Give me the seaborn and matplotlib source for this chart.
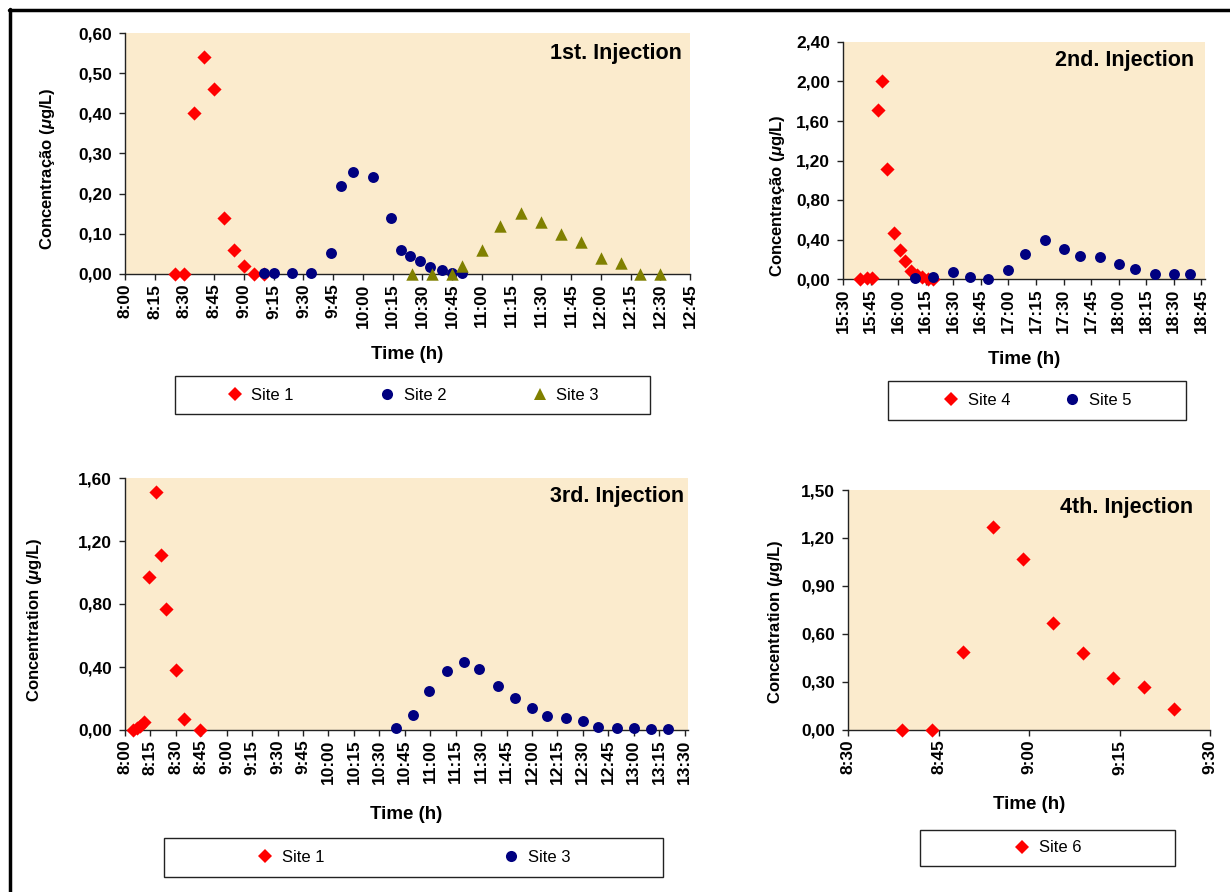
import matplotlib
matplotlib.use("Agg")
import matplotlib.pyplot as plt
from matplotlib.lines import Line2D
from matplotlib.patches import Rectangle
from matplotlib.ticker import FuncFormatter, MultipleLocator
import seaborn as sns
import pandas as pd

# ---------------- data ----------------
# 1st injection
p1_site1_t = ["8:25", "8:30", "8:35", "8:40", "8:45", "8:50", "8:55", "9:00", "9:05", "9:10"]
p1_site1_v = [0.00, 0.00, 0.40, 0.54, 0.46, 0.14, 0.06, 0.02, 0.00, 0.00]
p1_site2_t = ["9:10", "9:15", "9:24", "9:34", "9:44", "9:49", "9:55", "10:05", "10:14", "10:19",
              "10:24", "10:29", "10:34", "10:40", "10:45", "10:50"]
p1_site2_v = [0.002, 0.002, 0.002, 0.002, 0.052, 0.22, 0.254, 0.242, 0.14, 0.06,
              0.044, 0.032, 0.018, 0.011, 0.002, 0.002]
p1_site3_t = ["10:25", "10:35", "10:45", "10:50", "11:00", "11:09", "11:20", "11:30", "11:40",
              "11:50", "12:00", "12:10", "12:20", "12:30"]
p1_site3_v = [0.00, 0.00, 0.00, 0.021, 0.059, 0.12, 0.151, 0.13, 0.10, 0.079, 0.041, 0.028, 0.00, 0.00]

# 2nd injection
p2_site4_t = ["15:39", "15:43", "15:46", "15:49", "15:51", "15:54", "15:58", "16:01", "16:04",
              "16:07", "16:10", "16:13", "16:16", "16:19"]
p2_site4_v = [0.00, 0.01, 0.01, 1.71, 2.01, 1.11, 0.47, 0.29, 0.18, 0.08, 0.04, 0.02, 0.00, 0.00]
p2_site5_t = ["16:09", "16:19", "16:30", "16:39", "16:49", "17:00", "17:09", "17:20", "17:30",
              "17:39", "17:50", "18:00", "18:09", "18:20", "18:30", "18:39"]
p2_site5_v = [0.007, 0.024, 0.07, 0.02, 0.003, 0.088, 0.256, 0.39, 0.307, 0.236, 0.223,
              0.155, 0.10, 0.054, 0.054, 0.054]

# 3rd injection
p3_site1_t = ["8:05", "8:07", "8:09", "8:11", "8:14", "8:18", "8:21", "8:24", "8:30", "8:35", "8:44"]
p3_site1_v = [0.00, 0.013, 0.028, 0.051, 0.97, 1.51, 1.11, 0.77, 0.38, 0.07, 0.00]
p3_site3_t = ["10:40", "10:50", "10:59", "11:10", "11:20", "11:29", "11:40", "11:50", "12:00",
              "12:09", "12:20", "12:30", "12:39", "12:50", "13:00", "13:10", "13:20"]
p3_site3_v = [0.013, 0.098, 0.249, 0.374, 0.43, 0.385, 0.279, 0.202, 0.14, 0.087, 0.077,
              0.055, 0.021, 0.013, 0.013, 0.004, 0.004]

# 4th injection
p4_site6_t = ["8:39", "8:44", "8:49", "8:54", "8:59", "9:04", "9:09", "9:14", "9:19", "9:24"]
p4_site6_v = [0.00, 0.00, 0.49, 1.27, 1.07, 0.67, 0.48, 0.325, 0.27, 0.133]

titles = ["1st. Injection", "2nd. Injection", "3rd. Injection", "4th. Injection"]
ylabels = ["Concentração ($\\mu$g/L)", "Concentração ($\\mu$g/L)",
           "Concentration ($\\mu$g/L)", "Concentration ($\\mu$g/L)"]
xlabel = "Time (h)"


def to_min(s):
    h, m = s.split(":")
    return int(h) * 60 + int(m)


# ---------------- style ----------------
sns.set_style("ticks")
plt.rcParams["font.family"] = ["Liberation Sans", "DejaVu Sans"]
plt.rcParams["mathtext.fontset"] = "custom"
plt.rcParams["mathtext.it"] = "Liberation Sans:italic:bold"
plt.rcParams["mathtext.rm"] = "Liberation Sans:bold"
plt.rcParams["text.color"] = "black"
plt.rcParams["axes.labelcolor"] = "black"
plt.rcParams["xtick.color"] = "black"
plt.rcParams["ytick.color"] = "black"

BG = "#FBEBCD"
RED = "#FF0000"
NAVY = "#000080"
OLIVE = "#808000"

W, H = 1230, 892
fig = plt.figure(figsize=(12.3, 8.92), dpi=100)
fig.patch.set_facecolor("white")


def add_ax(left, top, right, bottom):
    return fig.add_axes([left / W, 1 - bottom / H, (right - left) / W, (bottom - top) / H])


MK = {"D": dict(marker="D", s=52), "o": dict(marker="o", s=62), "^": dict(marker="^", s=80)}


def draw(ax, t, v, mk, color):
    df = pd.DataFrame({"t": [to_min(x) for x in t], "v": v})
    sns.scatterplot(data=df, x="t", y="v", ax=ax, color=color, linewidth=0,
                    clip_on=False, zorder=3, legend=False, **MK[mk])


def style(ax, xlim, xstep, ylim, ystep, title, title_xy, ylab, ylab_xy, xlab_y):
    ax.set_facecolor(BG)
    ax.set_xlim(*xlim)
    ax.set_ylim(*ylim)
    ax.xaxis.set_major_locator(MultipleLocator(xstep))
    ax.yaxis.set_major_locator(MultipleLocator(ystep))
    ax.xaxis.set_major_formatter(FuncFormatter(lambda x, p: f"{int(round(x)) // 60}:{int(round(x)) % 60:02d}"))
    ax.yaxis.set_major_formatter(FuncFormatter(lambda y, p: f"{y:.2f}".replace(".", ",")))
    for s in ["top", "right"]:
        ax.spines[s].set_visible(False)
    for s in ["left", "bottom"]:
        ax.spines[s].set_color("#222222")
        ax.spines[s].set_linewidth(1.0)
    ax.tick_params(axis="both", direction="out", length=4, width=1, color="#222222",
                   labelsize=12.5, pad=3, labelcolor="black")
    ax.tick_params(axis="y", pad=5.5)
    for lab in ax.get_xticklabels() + ax.get_yticklabels():
        lab.set_fontweight("bold")
    for lab in ax.get_xticklabels():
        lab.set_rotation(90)
    ax.set_ylabel(ylab, fontsize=12, fontweight="bold", color="black")
    ax.yaxis.label.set_va("center")
    ax.yaxis.set_label_coords(*ylab_xy)
    ax.set_xlabel(xlabel, fontsize=13.5, fontweight="bold", color="black")
    ax.xaxis.label.set_va("center")
    ax.xaxis.set_label_coords(0.5, xlab_y)
    ax.text(title_xy[0], title_xy[1], title, transform=ax.transAxes, ha="right", va="center",
            fontsize=15.5, fontweight="bold", color="black")


def legend_box(ax, handles, labels, box, colspace):
    l, t, r, b = box
    fig.add_artist(Rectangle((l / W, 1 - b / H), (r - l) / W, (b - t) / H,
                             transform=fig.transFigure, fill=False, edgecolor="#222222",
                             linewidth=1.0))
    leg = ax.legend(handles, labels, loc="center", ncol=len(handles),
                    bbox_to_anchor=((l + r) / 2 / W, 1 - (t + b) / 2 / H),
                    bbox_transform=fig.transFigure, frameon=False, fontsize=12,
                    handlelength=1.0, handletextpad=0.5, columnspacing=colspace)
    for txt in leg.get_texts():
        txt.set_color("black")


def h(mk, color):
    ms = {"D": 7, "o": 8, "^": 9}[mk]
    return Line2D([], [], marker=mk, color=color, ls="none", markersize=ms, markeredgewidth=0)


# ---------------- panel 1 ----------------
ax1 = add_ax(125, 33, 690, 274)
draw(ax1, p1_site1_t, p1_site1_v, "D", RED)
draw(ax1, p1_site2_t, p1_site2_v, "o", NAVY)
draw(ax1, p1_site3_t, p1_site3_v, "^", OLIVE)
style(ax1, (480, 765), 15, (0, 0.6), 0.1, titles[0], (0.985, 0.915), ylabels[0],
      (-0.137, 0.436), -0.335)
legend_box(ax1, [h("D", RED), h("o", NAVY), h("^", OLIVE)], ["Site 1", "Site 2", "Site 3"],
           (175, 376, 650, 414), 5.1)

# ---------------- panel 2 ----------------
ax2 = add_ax(843, 42, 1205, 279)
draw(ax2, p2_site4_t, p2_site4_v, "D", RED)
draw(ax2, p2_site5_t, p2_site5_v, "o", NAVY)
style(ax2, (930, 1127), 15, (0, 2.4), 0.4, titles[1], (0.97, 0.92), ylabels[1],
      (-0.18, 0.35), -0.338)
legend_box(ax2, [h("D", RED), h("o", NAVY)], ["Site 4", "Site 5"], (888, 381, 1186, 420), 3.2)

# ---------------- panel 3 ----------------
ax3 = add_ax(125, 478, 688, 730)
draw(ax3, p3_site1_t, p3_site1_v, "D", RED)
draw(ax3, p3_site3_t, p3_site3_v, "o", NAVY)
style(ax3, (480, 812), 15, (0, 1.6), 0.4, titles[2], (0.993, 0.928), ylabels[2],
      (-0.16, 0.437), -0.337)
legend_box(ax3, [h("D", RED), h("o", NAVY)], ["Site 1", "Site 3"], (164, 838, 663, 877), 10.7)

# ---------------- panel 4 ----------------
ax4 = add_ax(848, 490, 1210, 730)
draw(ax4, p4_site6_t, p4_site6_v, "D", RED)
style(ax4, (510, 570), 15, (0, 1.5), 0.3, titles[3], (0.953, 0.925), ylabels[3],
      (-0.2, 0.45), -0.31)
legend_box(ax4, [h("D", RED)], ["Site 6"], (920, 830, 1175, 866), 1.0)

# ---------------- outer frame ----------------
fig.add_artist(Line2D([9 / W, 1.0], [1 - 9.5 / H, 1 - 9.5 / H], transform=fig.transFigure,
                      color="black", linewidth=2.5))
fig.add_artist(Line2D([9.5 / W, 9.5 / W], [0, 1 - 9 / H], transform=fig.transFigure,
                      color="black", linewidth=2.5))

fig.savefig("out.png", dpi=100, facecolor="white")
